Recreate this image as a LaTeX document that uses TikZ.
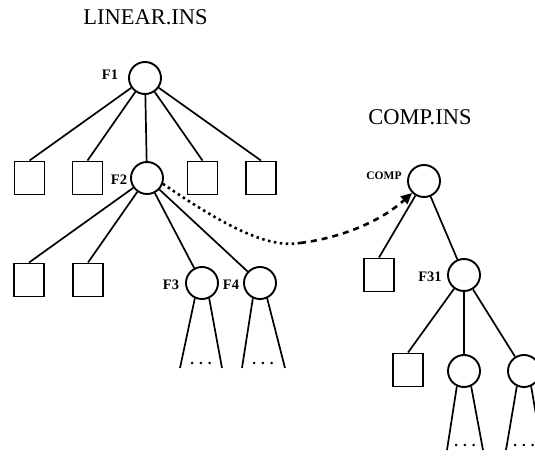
\documentclass[tikz,border=0pt]{standalone}
\usepackage{fontspec}
\setmainfont{Liberation Serif}
\usetikzlibrary{arrows.meta}
\begin{document}
\begin{tikzpicture}[x=1pt,y=-1pt,
  every path/.style={line width=1.7pt},
  fnode/.style={circle,draw,line width=1.9pt,minimum size=32pt,inner sep=0pt},
  leaf/.style={rectangle,draw,line width=1.9pt,minimum width=30pt,minimum height=33pt,inner sep=0pt},
  title/.style={font=\fontsize{22.5}{22.5}\selectfont,inner sep=0pt},
  lbl/.style={font=\fontsize{14.5}{14.5}\selectfont\bfseries,inner sep=0pt},
  dots/.style={font=\fontsize{15}{15}\selectfont\bfseries,inner sep=0pt},
  link/.style={line width=2.6pt}]
\useasboundingbox (0,0) rectangle (535,457);

% ---- LINEAR.INS tree ----
\node[title] (t1) at (145.5,17.5) {LINEAR.INS};
\node[fnode] (f1) at (145,78) {};
\node[lbl] (lf1) at (110,75) {F1};
\node[leaf] (a1) at (29.5,178) {};
\node[leaf] (a2) at (87.5,178) {};
\node[fnode] (f2) at (147,178) {};
\node[lbl] (lf2) at (119,180) {F2};
\node[leaf] (a3) at (202.5,178) {};
\node[leaf] (a4) at (261,178) {};
\foreach \n in {a1,a2,a3,a4} \draw (f1) -- (\n.north);
\draw (f1) -- (f2);

\node[leaf] (b1) at (29,280) {};
\node[leaf] (b2) at (88,280) {};
\node[fnode] (f3) at (202,283) {};
\node[fnode] (f4) at (260,283) {};
\node[lbl] (lf3) at (171,285) {F3};
\node[lbl] (lf4) at (231,285) {F4};
\foreach \n in {b1,b2} \draw (f2) -- (\n.north);
\draw (f2) -- (f3);
\draw (f2) -- (f4);

% open subtrees under F3 and F4
\coordinate (f3l) at (180,368);
\coordinate (f3r) at (222,368);
\coordinate (f4l) at (242,368);
\coordinate (f4r) at (285,368);
\draw (f3.245) -- (f3l);
\draw (f3.295) -- (f3r);
\draw (f4.245) -- (f4l);
\draw (f4.295) -- (f4r);
\node[dots] (d3) at (201,363) {. . .};
\node[dots] (d4) at (263,363) {. . .};

% ---- COMP.INS tree ----
\node[title] (t2) at (420,117.5) {COMP.INS};
\node[fnode] (comp) at (424,181) {};
\node[lbl,font=\fontsize{11.5}{11.5}\selectfont\bfseries] (lcomp) at (384,176) {COMP};
\node[leaf] (c0) at (379,275) {};
\node[fnode] (f31) at (464,275) {};
\node[lbl] (lf31) at (430,277) {F31};
\draw (comp) -- (c0.north);
\draw (comp) -- (f31);

\node[leaf] (c1) at (408,370) {};
\node[fnode] (g1) at (464,371) {};
\node[fnode] (g2) at (524,371) {};
\draw (f31) -- (c1.north);
\draw (f31) -- (g1);
\draw (f31) -- (g2);

\coordinate (g1l) at (447,450);
\coordinate (g1r) at (483,450);
\coordinate (g2l) at (506,450);
\coordinate (g2r) at (542,450);
\draw (g1.245) -- (g1l);
\draw (g1.295) -- (g1r);
\draw (g2.245) -- (g2l);
\draw (g2.295) -- (g2r);
\node[dots] (e1) at (465,445) {. . .};
\node[dots] (e2) at (524,445) {. . .};

% ---- link from F2 to COMP ----
\coordinate (mid) at (300,243);
\draw[link,dash pattern=on 2.5pt off 3.5pt] (f2.-20) .. controls (230,230) and (270,248) .. (mid);
\draw[link,dash pattern=on 6pt off 5pt,-{Triangle[length=11pt,width=10pt]}]
  (mid) .. controls (340,238) and (380,222) .. (comp.225);
\end{tikzpicture}
\end{document}
